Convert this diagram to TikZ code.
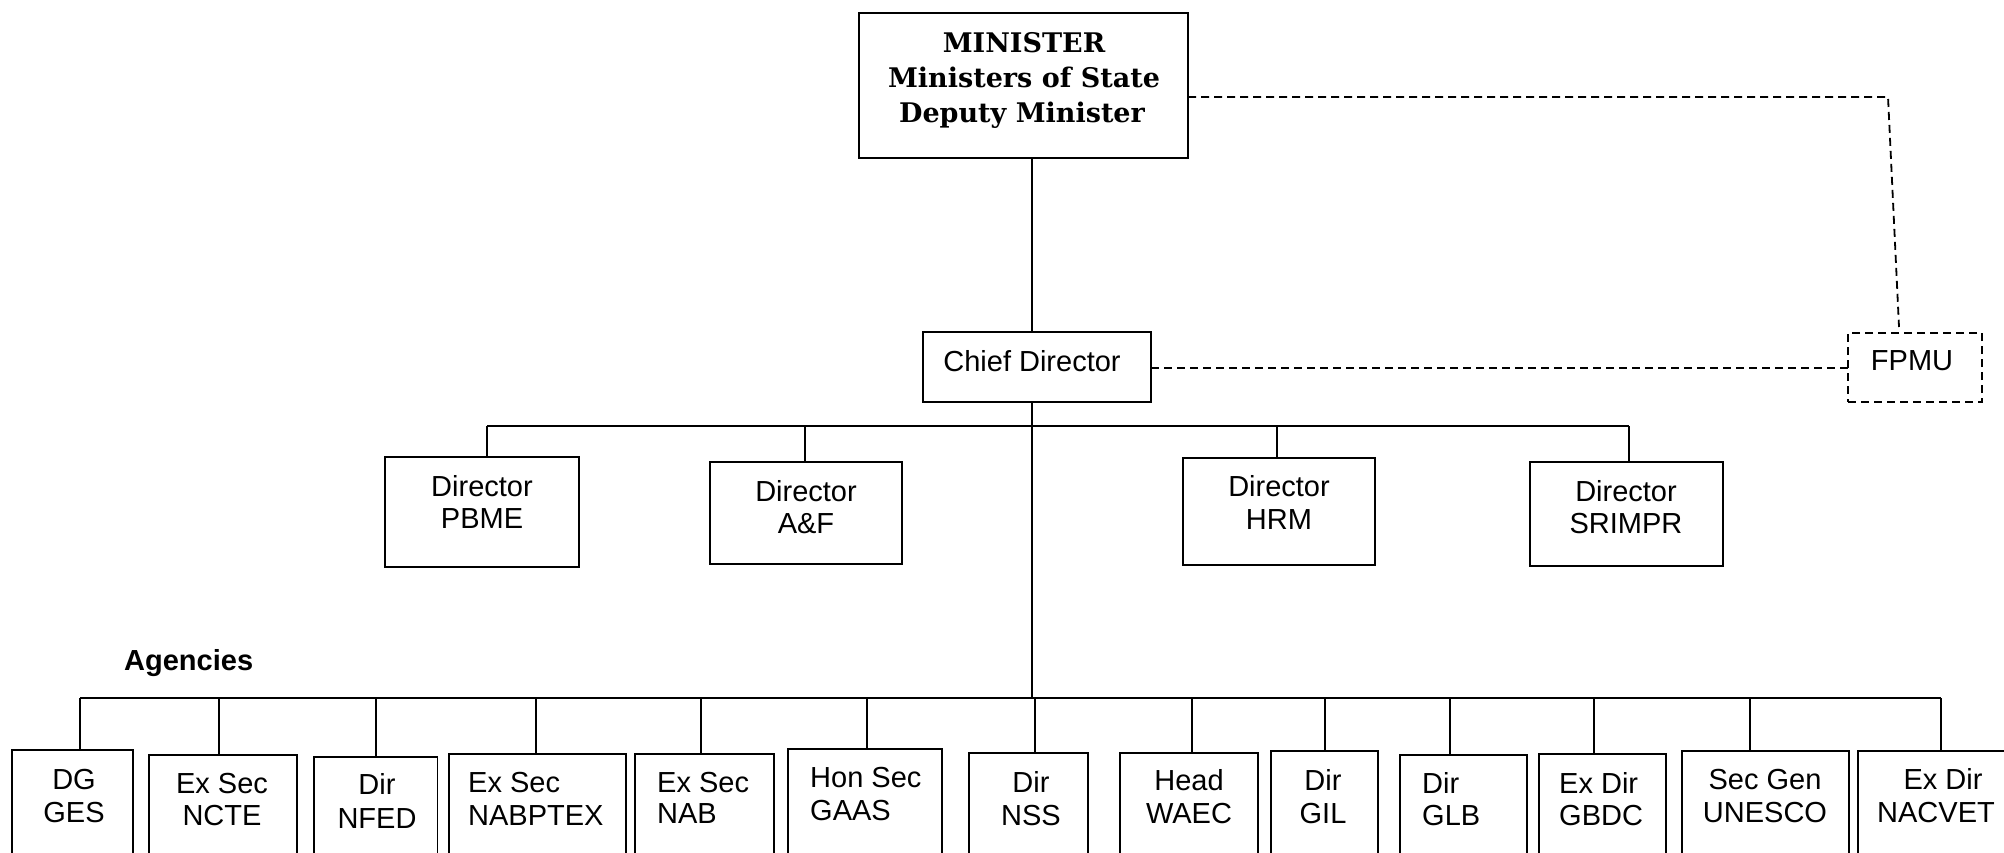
\documentclass[tikz,border=0pt]{standalone}
\usepackage{fontspec}
\setmainfont{Liberation Sans}
\newfontfamily\minfont{DejaVu Serif}
\newcommand\orgbox[6][]{\node[box,#1,minimum width={#5pt-#3pt},minimum height={#6pt-#4pt}] (#2) at ({(#3+#5)/2},{(#4+#6)/2}) {};}
\begin{document}
\begin{tikzpicture}[x=1pt,y=-1pt,
  box/.style={draw,line width=1.8pt,inner sep=0pt,outer sep=0pt},
  dbox/.style={draw,line width=1.8pt,dash pattern=on 8pt off 5pt,inner sep=0pt,outer sep=0pt},
  conn/.style={line width=1.8pt},
  dconn/.style={line width=1.8pt,dash pattern=on 8pt off 5pt},
  lbl/.style={font=\fontsize{29}{32}\selectfont,inner sep=0pt,anchor=base},
  lbll/.style={lbl,anchor=base west},
  mlbl/.style={font=\minfont\bfseries\fontsize{27}{30}\selectfont,inner sep=0pt,anchor=base}]
\clip (0,0) rectangle (2004,853);
\fill[white] (0,0) rectangle (2004,853);
% top level
\orgbox{min}{859}{13}{1188}{158}
\node[mlbl] (min-a) at (1024,53) {MINISTER};
\node[mlbl] (min-b) at (1024,88) {Ministers of State};
\node[mlbl] (min-c) at (1022,123) {Deputy Minister};
\orgbox{cd}{923}{332}{1151}{402}
\node[lbl] (cd-a) at (1032,371) {Chief Director};
\orgbox[dbox]{fpmu}{1848}{333}{1982}{402}
\node[lbl] (fpmu-a) at (1912,370) {FPMU};
% directors
\orgbox{pbme}{385}{457}{579}{567}
\node[lbl] (pbme-a) at (482,496) {Director};
\node[lbl] (pbme-b) at (482,528) {PBME};
\orgbox{af}{710}{462}{902}{564}
\node[lbl] (af-a) at (806,501) {Director};
\node[lbl] (af-b) at (806,533) {A\&F};
\orgbox{hrm}{1183}{458}{1375}{565}
\node[lbl] (hrm-a) at (1279,496) {Director};
\node[lbl] (hrm-b) at (1279,529) {HRM};
\orgbox{srimpr}{1530}{462}{1723}{566}
\node[lbl] (srimpr-a) at (1626,501) {Director};
\node[lbl] (srimpr-b) at (1626,533) {SRIMPR};
% agencies
\node[lbl,font=\bfseries\fontsize{29}{32}\selectfont,anchor=base west] (aglabel) at (124,670) {Agencies};
\orgbox{ges}{12}{750}{133}{900}
\node[lbl] (ges-a) at (74,789) {DG};
\node[lbl] (ges-b) at (74,822) {GES};
\orgbox{ncte}{149}{755}{297}{900}
\node[lbl] (ncte-a) at (222,793) {Ex Sec};
\node[lbl] (ncte-b) at (222,825) {NCTE};
\orgbox{nfed}{314}{757}{437.5}{900}
\node[lbl] (nfed-a) at (377,794) {Dir};
\node[lbl] (nfed-b) at (377,828) {NFED};
\orgbox{nabptex}{449}{754}{626}{900}
\node[lbll] (nabptex-a) at (468,792) {Ex Sec};
\node[lbll] (nabptex-b) at (468,825) {NABPTEX};
\orgbox{nab}{635}{754}{774}{900}
\node[lbll] (nab-a) at (657,792) {Ex Sec};
\node[lbll] (nab-b) at (657,823) {NAB};
\orgbox{gaas}{788}{749}{942}{900}
\node[lbll] (gaas-a) at (810,787) {Hon Sec};
\node[lbll] (gaas-b) at (810,820) {GAAS};
\orgbox{nss}{969}{753}{1088}{900}
\node[lbl] (nss-a) at (1031,792) {Dir};
\node[lbl] (nss-b) at (1031,825) {NSS};
\orgbox{waec}{1120}{753}{1258}{900}
\node[lbl] (waec-a) at (1189,790) {Head};
\node[lbl] (waec-b) at (1189,823) {WAEC};
\orgbox{gil}{1271}{751}{1378}{900}
\node[lbl] (gil-a) at (1323,790) {Dir};
\node[lbl] (gil-b) at (1323,823) {GIL};
\orgbox{glb}{1400}{755}{1527}{900}
\node[lbll] (glb-a) at (1422,793) {Dir};
\node[lbll] (glb-b) at (1422,825) {GLB};
\orgbox{gbdc}{1539}{754}{1666}{900}
\node[lbll] (gbdc-a) at (1559,793) {Ex Dir};
\node[lbll] (gbdc-b) at (1559,825) {GBDC};
\orgbox{unesco}{1682}{751}{1849}{900}
\node[lbl] (unesco-a) at (1765,789) {Sec Gen};
\node[lbl] (unesco-b) at (1765,822) {UNESCO};
\orgbox{nacvet}{1858}{751}{2040}{900}
\node[lbl] (nacvet-a) at (1943,789) {Ex Dir};
\node[lbl] (nacvet-b) at (1936,822) {NACVET};
% connectors
\coordinate (mtop) at (1032,158);
\coordinate (dbusL) at (487,426);
\coordinate (dbusR) at (1629,426);
\coordinate (abusL) at (80,698);
\coordinate (abusR) at (1941,698);
\draw[conn] (mtop) -- (mtop |- cd.north);
\draw[conn] (mtop |- cd.south) -- (mtop |- abusL);
\draw[conn] (dbusL) -- (dbusR);
\draw[conn] (dbusL) -- (dbusL |- pbme.north);
\draw[conn] (805,426) -- (805,426 |- af.north);
\draw[conn] (1277,426) -- (1277,426 |- hrm.north);
\draw[conn] (dbusR) -- (dbusR |- srimpr.north);
\draw[conn] (abusL) -- (abusR);
\foreach \n/\x in {ges/80,ncte/219,nfed/376,nabptex/536,nab/701,gaas/867,nss/1035,waec/1192,gil/1325,glb/1450,gbdc/1594,unesco/1750,nacvet/1941}
  \draw[conn] (\x,698) -- (\x,698 |- \n.north);
% dashed links
\coordinate (c1) at (1888,97);
\coordinate (c2) at (1899,327);
\draw[dconn] (min.east |- c1) -- (c1) -- (c2);
\coordinate (c3) at (1500,368);
\draw[dconn] (cd.east |- c3) -- (fpmu.west |- c3);
\end{tikzpicture}
\end{document}
